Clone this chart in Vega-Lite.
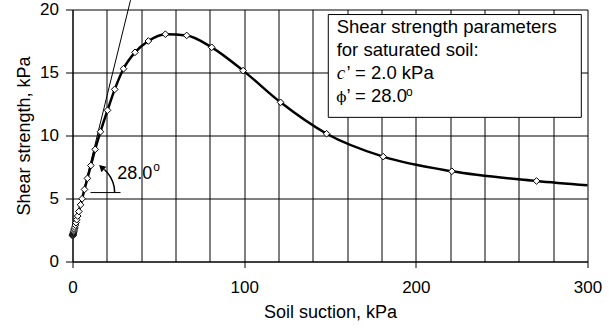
{
  "$schema": "https://vega.github.io/schema/vega-lite/v6.json",
  "width": 515,
  "height": 252,
  "autosize": {"type": "none"},
  "padding": {"left": 72.5, "top": 9.5, "right": 28.5, "bottom": 66.5},
  "background": "white",
  "config": {"view": {"stroke": null}, "font": "Liberation Sans"},
  "datasets": {
    "curve": [
      {"s": 0.10, "t": 2.05}, {"s": 0.12, "t": 2.06}, {"s": 0.15, "t": 2.08}, {"s": 0.19, "t": 2.10},
      {"s": 0.23, "t": 2.12}, {"s": 0.28, "t": 2.15}, {"s": 0.34, "t": 2.18}, {"s": 0.41, "t": 2.22},
      {"s": 0.50, "t": 2.27}, {"s": 0.62, "t": 2.33}, {"s": 0.75, "t": 2.40}, {"s": 0.92, "t": 2.49},
      {"s": 1.12, "t": 2.60}, {"s": 1.37, "t": 2.73}, {"s": 1.67, "t": 2.89}, {"s": 2.04, "t": 3.08},
      {"s": 2.49, "t": 3.32}, {"s": 3.03, "t": 3.61}, {"s": 3.70, "t": 3.97}, {"s": 4.70, "t": 4.50},
      {"s": 5.60, "t": 4.98}, {"s": 7.00, "t": 5.72}, {"s": 8.70, "t": 6.60}, {"s": 10.70, "t": 7.62},
      {"s": 13.20, "t": 8.90}, {"s": 16.30, "t": 10.30}, {"s": 20.40, "t": 12.00}, {"s": 24.60, "t": 13.66},
      {"s": 29.70, "t": 15.30}, {"s": 36.40, "t": 16.60}, {"s": 44.20, "t": 17.50}, {"s": 54.10, "t": 18.04},
      {"s": 66.50, "t": 17.94}, {"s": 81.10, "t": 17.00}, {"s": 99.40, "t": 15.15}, {"s": 121.20, "t": 12.63},
      {"s": 148.00, "t": 10.14}, {"s": 181.00, "t": 8.32}, {"s": 221.00, "t": 7.16}, {"s": 270.30, "t": 6.39},
      {"s": 300.00, "t": 6.05}
    ],
    "tangent": [{"s": 0, "t": 2.0}, {"s": 33.8, "t": 20.74}],
    "hline": [{"s": 10.5, "t": 5.47}, {"s": 28.0, "t": 5.47}],
    "arc": [
      {"i": 0, "s": 24.57, "t": 5.47}, {"i": 1, "s": 24.30, "t": 5.90}, {"i": 2, "s": 23.49, "t": 6.31},
      {"i": 3, "s": 22.16, "t": 6.70}, {"i": 4, "s": 20.35, "t": 7.05}, {"i": 5, "s": 18.60, "t": 7.30}
    ],
    "arrow": [{"s": 16.9, "t": 7.48}],
    "angletext": [{"s": 26.0, "t": 6.53, "label": "28.0"}],
    "sup": [{"s": 47.0, "t": 7.21, "label": "o"}, {"s": 194.3, "t": 13.17, "label": "o"}],
    "box": [{"s": 149.0, "s2": 296.4, "t": 11.44, "t2": 19.60}],
    "legend": [
      {"s": 153.9, "t": 18.10, "label": "Shear strength parameters"},
      {"s": 153.9, "t": 16.30, "label": "for saturated soil:"},
      {"s": 159.6, "t": 14.48, "label": "’ = 2.0 kPa"},
      {"s": 159.6, "t": 12.68, "label": "’ = 28.0"}
    ],
    "cvar": [{"s": 153.9, "t": 14.48, "label": "c"}],
    "phi": [{"s": 153.6, "t": 12.68, "label": "ϕ"}]
  },
  "encoding": {
    "x": {
      "field": "s", "type": "quantitative",
      "scale": {"domain": [0, 300], "nice": false, "zero": false},
      "axis": {
        "title": "Soil suction, kPa",
        "values": [0, 20, 40, 60, 80, 100, 120, 140, 160, 180, 200, 220, 240, 260, 280, 300],
        "grid": true, "gridColor": "#000", "gridOpacity": 1, "gridWidth": 1,
        "domainColor": "#000", "tickColor": "#000", "tickSize": 6,
        "tickOpacity": {"condition": {"test": "datum.value % 100 === 0", "value": 1}, "value": 0},
        "labelExpr": "datum.value % 100 === 0 ? datum.label : ''",
        "labelFont": "Liberation Sans", "labelFontSize": 17, "labelColor": "#000", "labelPadding": 12,
        "labelOverlap": false, "labelFlush": false,
        "titleFont": "Liberation Sans", "titleFontSize": 18, "titleFontWeight": "normal", "titleColor": "#000", "titlePadding": 8
      }
    },
    "y": {
      "field": "t", "type": "quantitative",
      "scale": {"domain": [0, 20], "nice": false},
      "axis": {
        "title": "Shear strength, kPa",
        "values": [0, 5, 10, 15, 20],
        "grid": true, "gridColor": "#000", "gridOpacity": 1, "gridWidth": 1,
        "domainColor": "#000", "tickColor": "#000", "tickSize": 7,
        "labelFont": "Liberation Sans", "labelFontSize": 17, "labelColor": "#000", "labelPadding": 7,
        "labelOverlap": false, "labelFlush": false,
        "titleFont": "Liberation Sans", "titleFontSize": 18, "titleFontWeight": "normal", "titleColor": "#000", "titlePadding": 6
      }
    }
  },
  "layer": [
    {"data": {"name": "tangent"}, "mark": {"type": "line", "color": "#000", "strokeWidth": 1, "clip": false}},
    {"data": {"name": "curve"}, "mark": {"type": "line", "color": "#000", "strokeWidth": 2.5, "interpolate": "monotone"}},
    {"data": {"name": "curve"}, "transform": [{"filter": "datum.s < 300"}],
     "mark": {"type": "point", "shape": "diamond", "filled": true, "fill": "#fff", "stroke": "#000", "strokeWidth": 1, "size": 45, "opacity": 1}},
    {"data": {"name": "hline"}, "mark": {"type": "line", "color": "#000", "strokeWidth": 1}},
    {"data": {"name": "arc"}, "mark": {"type": "line", "color": "#000", "strokeWidth": 1.5}, "encoding": {"order": {"field": "i", "type": "quantitative"}}},
    {"data": {"name": "arrow"}, "mark": {"type": "point", "shape": "triangle-up", "filled": true, "color": "#000", "size": 55, "angle": 312, "opacity": 1}},
    {"data": {"name": "angletext"}, "mark": {"type": "text", "align": "left", "baseline": "alphabetic", "font": "Liberation Sans", "fontSize": 18, "color": "#000"}, "encoding": {"text": {"field": "label"}}},
    {"data": {"name": "box"}, "mark": {"type": "rect", "fill": "#fff", "stroke": "#000", "strokeWidth": 1}, "encoding": {"x2": {"field": "s2"}, "y2": {"field": "t2"}}},
    {"data": {"name": "sup"}, "mark": {"type": "text", "align": "left", "baseline": "alphabetic", "font": "Liberation Sans", "fontSize": 12, "color": "#000"}, "encoding": {"text": {"field": "label"}}},
    {"data": {"name": "legend"}, "mark": {"type": "text", "align": "left", "baseline": "alphabetic", "font": "Liberation Sans", "fontSize": 18.5, "color": "#000"}, "encoding": {"text": {"field": "label"}}},
    {"data": {"name": "cvar"}, "mark": {"type": "text", "align": "left", "baseline": "alphabetic", "font": "Liberation Serif", "fontStyle": "italic", "fontSize": 19, "color": "#000"}, "encoding": {"text": {"field": "label"}}},
    {"data": {"name": "phi"}, "mark": {"type": "text", "align": "left", "baseline": "alphabetic", "font": "DejaVu Serif", "fontSize": 15, "color": "#000"}, "encoding": {"text": {"field": "label"}}}
  ]
}
